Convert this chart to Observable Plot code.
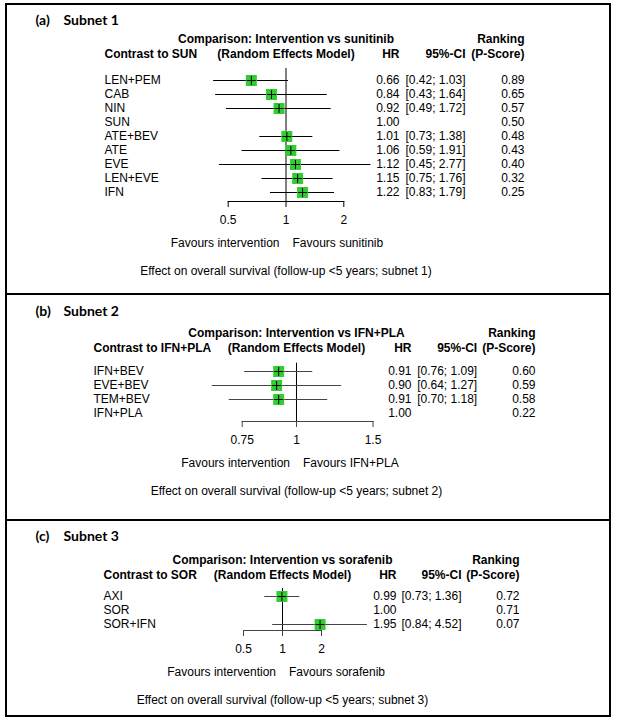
<!DOCTYPE html>
<html><head><meta charset="utf-8">
<script src="https://cdn.jsdelivr.net/npm/d3@7"></script>
<script src="https://cdn.jsdelivr.net/npm/@observablehq/plot@0.6"></script>
<style>
body{margin:0;background:#fff}
#page{position:relative;width:619px;height:726px;overflow:hidden;background:#fff}
.panel{position:absolute;left:0}
.rule{position:absolute;background:#000}
</style></head><body><div id="page"></div>
<script>
// ---------- Subnet 1 ----------
const subnet1Tag = "(a)";
const subnet1Title = "Subnet 1";
const subnet1Treatments = ["LEN+PEM","CAB","NIN","SUN","ATE+BEV","ATE","EVE","LEN+EVE","IFN"];
const subnet1HR     = [0.66,0.84,0.92,1.00,1.01,1.06,1.12,1.15,1.22];
const subnet1Lower  = [0.42,0.43,0.49,null,0.73,0.59,0.45,0.75,0.83];
const subnet1Upper  = [1.03,1.64,1.72,null,1.38,1.91,2.77,1.76,1.79];
const subnet1PScore = [0.89,0.65,0.57,0.50,0.48,0.43,0.40,0.32,0.25];
const subnet1Ticks  = [0.5,1,2];
const subnet1Texts  = {contrast:"Contrast to SUN", comparison:"Comparison: Intervention vs sunitinib",
  favLeft:"Favours intervention", favRight:"Favours sunitinib",
  effect:"Effect on overall survival (follow-up <5 years; subnet 1)"};

// ---------- Subnet 2 ----------
const subnet2Tag = "(b)";
const subnet2Title = "Subnet 2";
const subnet2Treatments = ["IFN+BEV","EVE+BEV","TEM+BEV","IFN+PLA"];
const subnet2HR     = [0.91,0.90,0.91,1.00];
const subnet2Lower  = [0.76,0.64,0.70,null];
const subnet2Upper  = [1.09,1.27,1.18,null];
const subnet2PScore = [0.60,0.59,0.58,0.22];
const subnet2Ticks  = [0.75,1,1.5];
const subnet2Texts  = {contrast:"Contrast to IFN+PLA", comparison:"Comparison: Intervention vs IFN+PLA",
  favLeft:"Favours intervention", favRight:"Favours IFN+PLA",
  effect:"Effect on overall survival (follow-up <5 years; subnet 2)"};

// ---------- Subnet 3 ----------
const subnet3Tag = "(c)";
const subnet3Title = "Subnet 3";
const subnet3Treatments = ["AXI","SOR","SOR+IFN"];
const subnet3HR     = [0.99,1.00,1.95];
const subnet3Lower  = [0.73,null,0.84];
const subnet3Upper  = [1.36,null,4.52];
const subnet3PScore = [0.72,0.71,0.07];
const subnet3Ticks  = [0.5,1,2];
const subnet3Texts  = {contrast:"Contrast to SOR", comparison:"Comparison: Intervention vs sorafenib",
  favLeft:"Favours intervention", favRight:"Favours sorafenib",
  effect:"Effect on overall survival (follow-up <5 years; subnet 3)"};

const headerTexts = {model:"(Random Effects Model)", hr:"HR", ci:"95%-CI", ranking:"Ranking", pscore:"(P-Score)"};

const GREEN = "#33cc33";
const W = 619;
const FONT = "'Liberation Sans', Arial, sans-serif";

function forest(d, L) {
  const rows = d.labels.map((name,i)=>({name, hr:d.hr[i], lo:d.lower[i], hi:d.upper[i], p:d.pscore[i]}));
  const withCI = rows.filter(r => r.lo != null);
  const ML = L.axisLeft, MR = W - L.axisRight, MT = L.refTop, MB = L.height - L.axisY;
  const frameH = L.height - MT - MB;
  const at = (x, y, anchor) => ({frameAnchor:"top-left", dx:x-ML, dy:y-MT, textAnchor:anchor});
  const col = (x, anchor) => ({frameAnchor:"left", dx:x-ML, textAnchor:anchor});
  const F = {fontFamily:FONT, fontSize:12, fill:"black"};
  const B = {...F, fontWeight:"bold"};
  const T = {fontFamily:"Lato, 'Open Sans', sans-serif", fontSize:14, fontWeight:"bold", fill:"black"};
  const one = s => [s];
  const c = L.center;
  return Plot.plot({
    width: W, height: L.height,
    marginLeft: ML, marginRight: MR, marginTop: MT, marginBottom: MB,
    style: {background:"transparent", overflow:"visible", fontFamily:FONT, fontSize:"12px", color:"black"},
    x: {type:"log", domain:[d.ticks[0], d.ticks[d.ticks.length-1]], axis:null},
    y: {type:"point", domain:d.labels, range:[L.rowTop, L.rowBottom], padding:0, axis:null},
    marks: [
      // panel title
      Plot.text(one(d.tag), {...at(35, L.titleY, "start"), text:s=>s, ...T}),
      Plot.text(one(d.title), {...at(63, L.titleY, "start"), text:s=>s, ...T}),
      // header line 1
      Plot.text(one(d.texts.comparison), {...at(c, L.h1, "middle"), text:s=>s, ...B}),
      Plot.text(one(headerTexts.ranking), {...at(L.pRight, L.h1, "end"), text:s=>s, ...B}),
      // header line 2
      Plot.text(one(d.texts.contrast), {...at(L.labelX, L.h2, "start"), text:s=>s, ...B}),
      Plot.text(one(headerTexts.model), {...at(c, L.h2, "middle"), text:s=>s, ...B}),
      Plot.text(one(headerTexts.hr), {...at(L.hrRight, L.h2, "end"), text:s=>s, ...B}),
      Plot.text(one(headerTexts.ci), {...at(L.ciRight, L.h2, "end"), text:s=>s, ...B}),
      Plot.text(one(headerTexts.pscore), {...at(L.pRight, L.h2, "end"), text:s=>s, ...B}),
      // reference line at 1
      Plot.ruleX([1], {stroke:"black", strokeWidth:1}),
      // axis: baseline, downward ticks, labels
      Plot.frame({anchor:"bottom", stroke:L.lineColor, strokeWidth:1}),
      Plot.tickX(d.ticks, {x:v=>v, insetTop:frameH-6, dy:6, stroke:L.lineColor, strokeWidth:1}),
      Plot.text(d.ticks, {x:v=>v, text:v=>String(v), frameAnchor:"bottom", dy:22, textAnchor:"middle", ...F}),
      // CI lines, squares, centre marks
      Plot.ruleY(withCI, {y:"name", x1:"lo", x2:"hi", stroke:L.lineColor, strokeWidth:1}),
      Plot.dot(withCI, {x:"hr", y:"name", symbol:"square", r:6.2, fill:GREEN, stroke:null}),
      Plot.dot(withCI, {x:"hr", y:"name", symbol:"plus", r:3, stroke:"black", fill:"none", strokeWidth:1}),
      // row text columns
      Plot.text(rows, {y:"name", text:"name", ...col(L.labelX, "start"), ...F}),
      Plot.text(rows, {y:"name", text:r=>r.hr.toFixed(2), ...col(L.hrRight, "end"), ...F}),
      Plot.text(withCI, {y:"name", text:r=>`[${r.lo.toFixed(2)}; ${r.hi.toFixed(2)}]`, ...col(L.ciRight, "end"), ...F}),
      Plot.text(rows, {y:"name", text:r=>r.p.toFixed(2), ...col(L.pRight, "end"), ...F}),
      // favours + caption
      Plot.text(one(d.texts.favLeft), {...at(c-6.5, L.axisY+37, "end"), text:s=>s, ...F}),
      Plot.text(one(d.texts.favRight), {...at(c+6.5, L.axisY+37, "start"), text:s=>s, ...F}),
      Plot.text(one(d.texts.effect), {...at(c, L.axisY+64.5, "middle"), text:s=>s, ...F})
    ]
  });
}

const panels = [
  {top:0, data:{tag:subnet1Tag, title:subnet1Title, labels:subnet1Treatments, hr:subnet1HR, lower:subnet1Lower, upper:subnet1Upper, pscore:subnet1PScore, ticks:subnet1Ticks, texts:subnet1Texts},
   layout:{height:294, axisLeft:227.7, axisRight:343.3, center:285.5, refTop:68, axisY:201, rowTop:78, rowBottom:193,
     titleY:15, h1:34, h2:49, labelX:104, hrRight:399, ciRight:465, pRight:524, lineColor:"black"}},
  {top:294, data:{tag:subnet2Tag, title:subnet2Title, labels:subnet2Treatments, hr:subnet2HR, lower:subnet2Lower, upper:subnet2Upper, pscore:subnet2PScore, ticks:subnet2Ticks, texts:subnet2Texts},
   layout:{height:226, axisLeft:241.7, axisRight:372.5, center:296, refTop:68.7, axisY:127, rowTop:76.5, rowBottom:120,
     titleY:11.5, h1:34, h2:49, labelX:93, hrRight:411, ciRight:476.7, pRight:535, lineColor:"#444"}},
  {top:520, data:{tag:subnet3Tag, title:subnet3Title, labels:subnet3Treatments, hr:subnet3HR, lower:subnet3Lower, upper:subnet3Upper, pscore:subnet3PScore, ticks:subnet3Ticks, texts:subnet3Texts},
   layout:{height:206, axisLeft:243, axisRight:321, center:282, refTop:68, axisY:110, rowTop:76, rowBottom:104.5,
     titleY:11, h1:35, h2:50, labelX:103, hrRight:396, ciRight:461, pRight:519, lineColor:"#444"}}
];

const page = document.getElementById("page");
for (const p of panels) {
  const div = document.createElement("div");
  div.className = "panel";
  div.style.top = p.top + "px";
  div.appendChild(forest(p.data, p.layout));
  page.appendChild(div);
}
// table borders
const rules = [
  {l:5, t:3, w:606, h:2}, {l:5, t:715, w:606, h:2},
  {l:5, t:3, w:2, h:714}, {l:609, t:3, w:2, h:714},
  {l:5, t:293, w:606, h:2}, {l:5, t:519, w:606, h:2}
];
for (const r of rules) {
  const e = document.createElement("div");
  e.className = "rule";
  Object.assign(e.style, {left:r.l+"px", top:r.t+"px", width:r.w+"px", height:r.h+"px"});
  page.appendChild(e);
}
</script></body></html>
